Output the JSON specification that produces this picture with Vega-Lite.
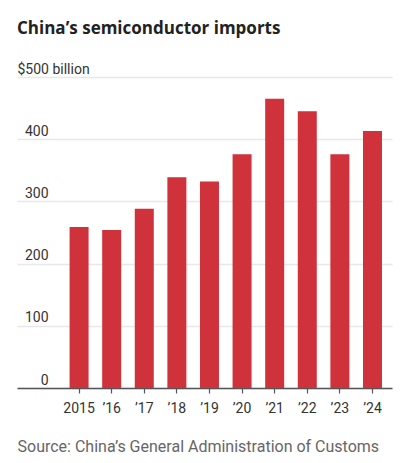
{
  "$schema": "https://vega.github.io/schema/vega-lite/v6.json",
  "width": 375,
  "height": 311,
  "autosize": {"type": "none"},
  "padding": {"left": 17, "top": 77, "right": 22, "bottom": 75},
  "background": "white",
  "title": {
    "text": "China’s semiconductor imports",
    "anchor": "start",
    "frame": "group",
    "baseline": "alphabetic",
    "font": "Open Sans",
    "fontSize": 17,
    "fontWeight": "bold",
    "color": "#222222",
    "offset": 11
  },
  "data": {
    "values": [
      {"year": "2015", "imports": 259},
      {"year": "’16", "imports": 254},
      {"year": "’17", "imports": 288},
      {"year": "’18", "imports": 339},
      {"year": "’19", "imports": 332},
      {"year": "’20", "imports": 376},
      {"year": "’21", "imports": 465},
      {"year": "’22", "imports": 445},
      {"year": "’23", "imports": 376},
      {"year": "’24", "imports": 413}
    ]
  },
  "mark": {"type": "bar", "color": "#d0323c"},
  "encoding": {
    "x": {
      "field": "year",
      "type": "nominal",
      "sort": null,
      "scale": {"paddingInner": 0.417, "paddingOuter": 0.96, "align": 0.84},
      "axis": {
        "title": "Source: China’s General Administration of Customs",
        "titleAnchor": "start",
        "titleAlign": "left",
        "titleFont": "Roboto",
        "titleFontSize": 16,
        "titleFontWeight": "normal",
        "titleColor": "#666666",
        "titlePadding": 23,
        "labelAngle": 0,
        "labelFont": "Roboto",
        "labelFontSize": 14,
        "labelColor": "#333333",
        "labelPadding": 8,
        "tickSize": 5,
        "tickColor": "#555555",
        "tickWidth": 1.2,
        "domainColor": "#555555",
        "domainWidth": 1.5,
        "grid": false
      }
    },
    "y": {
      "field": "imports",
      "type": "quantitative",
      "scale": {"domain": [0, 500]},
      "axis": {
        "title": null,
        "values": [0, 100, 200, 300, 400, 500],
        "domain": false,
        "ticks": false,
        "grid": true,
        "gridColor": "#e8e8e8",
        "gridWidth": 1.5,
        "labelFont": "Roboto",
        "labelFontSize": 14,
        "labelColor": "#333333",
        "labelExpr": "datum.value == 500 ? '$500 billion' : datum.label",
        "labelAlign": {"condition": {"test": "datum.value == 500", "value": "left"}, "value": "right"},
        "labelPadding": {"condition": {"test": "datum.value == 500", "value": 0}, "value": -31},
        "labelBaseline": "alphabetic",
        "labelOffset": -4
      }
    }
  },
  "config": {"view": {"stroke": null}}
}
